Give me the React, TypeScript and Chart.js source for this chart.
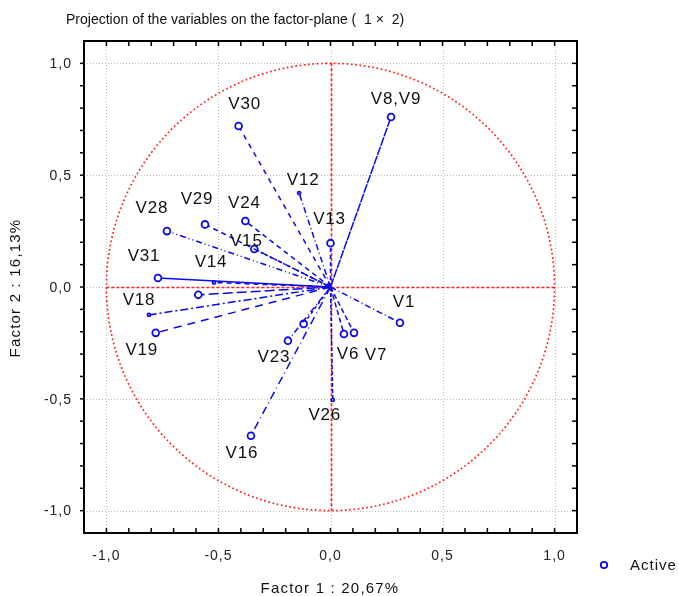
import React, { useEffect, useRef } from 'react';
import { Chart, registerables } from 'chart.js';

Chart.register(...registerables);

// ---- Data ----
const variableNames = ['V8,V9', 'V30', 'V12', 'V13', 'V28', 'V29', 'V24', 'V15', 'V31', 'V14', '', 'V18', 'V19', 'V23', '', 'V16', 'V26', 'V6', 'V7', 'V1'];
const factor1 = [0.27, -0.41, -0.14, 0.0, -0.73, -0.56, -0.38, -0.34, -0.77, -0.52, -0.59, -0.81, -0.78, -0.19, -0.12, -0.355, 0.01, 0.06, 0.105, 0.31];
const factor2 = [0.76, 0.72, 0.42, 0.196, 0.25, 0.28, 0.295, 0.17, 0.04, 0.02, -0.035, -0.125, -0.205, -0.24, -0.165, -0.665, -0.505, -0.21, -0.205, -0.16];

const tickValues = [-1, -0.5, 0, 0.5, 1];
const tickLabels = ['-1,0', '-0,5', '0,0', '0,5', '1,0'];
const titleText = 'Projection of the variables on the factor-plane (  1 \u00d7  2)';
const xAxisTitle = 'Factor 1 : 20,67%';
const yAxisTitle = 'Factor 2 : 16,13%';
const legendLabel = 'Active';

// ---- Styling (not data) ----
const BLUE = '#0a0af0';
const dashes: number[][] = [
  [9, 1], [5, 5], [6, 3, 1, 3], [4, 3], [6, 3, 1, 3, 1, 3], [5, 4], [5, 4], [3, 2],
  [], [5, 4], [10, 4], [8, 3, 2, 3], [8, 6], [6, 3, 1, 3], [3, 3], [8, 4, 1, 4], [4, 2], [5, 3], [5, 3], [6, 3, 1, 3],
];
const labelOffsets: Record<string, [number, number]> = {
  'V8,V9': [5, -19], V30: [6, -23], V12: [4, -14], V13: [-1, -25], V28: [-15, -24],
  V29: [-8, -26], V24: [-1, -19], V15: [-8, -9], V31: [-14, -23], V14: [-3, -21],
  V18: [-10, -16], V19: [-14, 16], V23: [-14, 16], V16: [-9, 17], V26: [-8, 14],
  V6: [4, 19], V7: [22, 21], V1: [4, -21],
};
const hiddenMarker = new Set(['V12', 'V18', 'V26', 'V14']);
const FONT = '"Liberation Sans", Arial, sans-serif';

const decorPlugin = {
  id: 'decor',
  beforeDatasetsDraw(chart: any) {
    const { ctx, chartArea: a, scales } = chart;
    const xs = scales.x, ys = scales.y;
    ctx.save();
    // gray dotted grid
    ctx.strokeStyle = '#bdbdbd';
    ctx.lineWidth = 1;
    ctx.setLineDash([1, 2]);
    tickValues.forEach((v) => {
      const px = Math.round(xs.getPixelForValue(v)) + 0.5;
      ctx.beginPath(); ctx.moveTo(px, a.top); ctx.lineTo(px, a.bottom); ctx.stroke();
      const py = Math.round(ys.getPixelForValue(v)) + 0.5;
      ctx.beginPath(); ctx.moveTo(a.left, py); ctx.lineTo(a.right, py); ctx.stroke();
    });
    // red unit circle
    const cx = xs.getPixelForValue(0), cy = ys.getPixelForValue(0);
    const rx = xs.getPixelForValue(1) - cx, ry = cy - ys.getPixelForValue(1);
    ctx.strokeStyle = '#ff2020';
    ctx.lineWidth = 1.7;
    ctx.setLineDash([1.7, 2.6]);
    ctx.beginPath(); ctx.ellipse(cx, cy, rx, ry, 0, 0, Math.PI * 2); ctx.stroke();
    // red dashed axes
    ctx.setLineDash([3, 2]);
    ctx.lineWidth = 1.7;
    ctx.beginPath();
    ctx.moveTo(Math.round(cx) + 0.5, ys.getPixelForValue(1));
    ctx.lineTo(Math.round(cx) + 0.5, ys.getPixelForValue(-1));
    ctx.stroke();
    ctx.beginPath();
    ctx.moveTo(xs.getPixelForValue(-1), Math.round(cy) + 0.5);
    ctx.lineTo(xs.getPixelForValue(1), Math.round(cy) + 0.5);
    ctx.stroke();
    ctx.restore();
  },
  afterDatasetsDraw(chart: any) {
    const { ctx, chartArea: a, scales } = chart;
    const xs = scales.x, ys = scales.y;
    ctx.save();
    // frame
    ctx.setLineDash([]);
    ctx.strokeStyle = '#000';
    ctx.lineWidth = 2;
    ctx.strokeRect(a.left, a.top, a.right - a.left, a.bottom - a.top);
    // minor ticks every 0.1
    ctx.lineWidth = 1.5;
    for (let i = -11; i <= 11; i++) {
      const v = i / 10;
      const px = xs.getPixelForValue(v);
      if (px > a.left + 2 && px < a.right - 2) {
        ctx.beginPath(); ctx.moveTo(px, a.top); ctx.lineTo(px, a.top + 5); ctx.stroke();
        ctx.beginPath(); ctx.moveTo(px, a.bottom); ctx.lineTo(px, a.bottom - 5); ctx.stroke();
      }
      const py = ys.getPixelForValue(v);
      if (py > a.top + 2 && py < a.bottom - 2) {
        ctx.beginPath(); ctx.moveTo(a.left, py); ctx.lineTo(a.left - 4, py); ctx.stroke();
        ctx.beginPath(); ctx.moveTo(a.right, py); ctx.lineTo(a.right - 5, py); ctx.stroke();
      }
    }
    // tick labels
    ctx.fillStyle = '#222';
    ctx.font = `14px ${FONT}`;
    (ctx as any).letterSpacing = '1px';
    ctx.textAlign = 'center';
    ctx.textBaseline = 'alphabetic';
    tickValues.forEach((v, i) => {
      ctx.fillText(tickLabels[i], xs.getPixelForValue(v), 560);
    });
    ctx.textAlign = 'right';
    ctx.textBaseline = 'middle';
    tickValues.forEach((v, i) => {
      ctx.fillText(tickLabels[i], a.left - 12, ys.getPixelForValue(v) + 1);
    });
    // variable labels
    ctx.font = `17px ${FONT}`;
    (ctx as any).letterSpacing = '0.8px';
    ctx.textAlign = 'center';
    ctx.textBaseline = 'middle';
    ctx.fillStyle = '#111';
    variableNames.forEach((n, i) => {
      if (!n) return;
      const off = labelOffsets[n] || [0, -18];
      ctx.fillText(n, xs.getPixelForValue(factor1[i]) + off[0], ys.getPixelForValue(factor2[i]) + off[1] + 1);
    });
    // title
    ctx.font = `14px ${FONT}`;
    (ctx as any).letterSpacing = '0px';
    ctx.textAlign = 'left';
    ctx.textBaseline = 'alphabetic';
    ctx.fillText(titleText, 66, 24);
    // axis titles
    ctx.font = `15px ${FONT}`;
    (ctx as any).letterSpacing = '1.2px';
    ctx.textAlign = 'center';
    ctx.fillText(xAxisTitle, 330, 593);
    ctx.save();
    ctx.translate(20, 288);
    ctx.rotate(-Math.PI / 2);
    ctx.fillText(yAxisTitle, 0, 0);
    ctx.restore();
    // legend
    ctx.strokeStyle = BLUE;
    ctx.fillStyle = '#fff';
    ctx.lineWidth = 1.8;
    ctx.beginPath(); ctx.arc(604, 565, 3.2, 0, Math.PI * 2); ctx.fill(); ctx.stroke();
    ctx.fillStyle = '#111';
    ctx.font = `15px ${FONT}`;
    (ctx as any).letterSpacing = '1px';
    ctx.textAlign = 'left';
    ctx.textBaseline = 'middle';
    ctx.fillText(legendLabel, 630, 566);
    ctx.restore();
  },
};

export default function App() {
  const ref = useRef<HTMLCanvasElement | null>(null);
  useEffect(() => {
    if (!ref.current) return;
    const datasets = variableNames.map((n, i) => ({
      label: n || 'unlabeled',
      data: [{ x: 0, y: 0 }, { x: factor1[i], y: factor2[i] }],
      showLine: true,
      borderColor: BLUE,
      borderWidth: 1.5,
      borderDash: dashes[i],
      pointRadius: [0, hiddenMarker.has(n) ? 1.5 : 3.4],
      pointBorderWidth: 1.8,
      pointBorderColor: BLUE,
      pointBackgroundColor: '#fff',
      pointStyle: 'circle',
    }));
    const chart = new Chart(ref.current, {
      type: 'scatter',
      data: { datasets },
      options: {
        animation: false,
        responsive: false,
        maintainAspectRatio: false,
        layout: { padding: { top: 41, right: 102, left: 0, bottom: 0 } },
        plugins: { legend: { display: false }, tooltip: { enabled: false }, title: { display: false } },
        scales: {
          x: {
            type: 'linear', min: -1.1, max: 1.1,
            ticks: { display: false },
            grid: { display: false, drawTicks: false },
            border: { display: false },
            afterFit: (s: any) => { s.height = 63; },
          },
          y: {
            type: 'linear', min: -1.1, max: 1.1,
            ticks: { display: false },
            grid: { display: false, drawTicks: false },
            border: { display: false },
            afterFit: (s: any) => { s.width = 84; },
          },
        },
      },
      plugins: [decorPlugin],
    });
    return () => chart.destroy();
  }, []);
  return (
    <div style={{ position: 'fixed', left: 0, top: 0, width: 679, height: 596, background: '#fff' }}>
      <canvas ref={ref} width={679} height={596} style={{ width: 679, height: 596 }} />
    </div>
  );
}
